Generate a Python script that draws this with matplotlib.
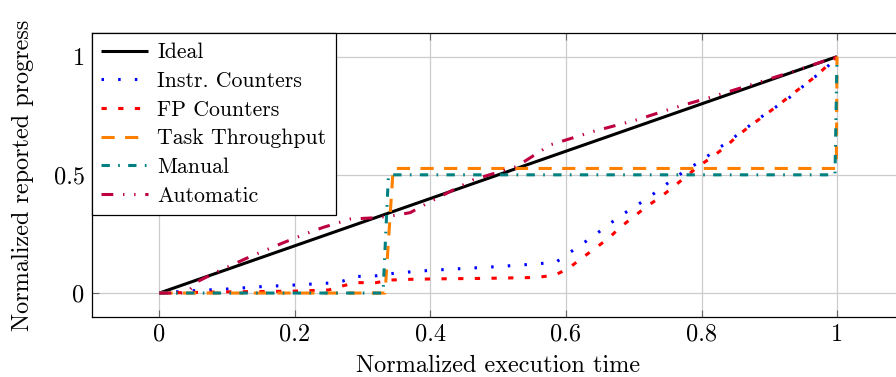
import matplotlib
matplotlib.use("Agg")
import matplotlib.pyplot as plt
from matplotlib.ticker import FormatStrFormatter

plt.rcParams['font.family'] = ['cmr10', 'DejaVu Serif']
plt.rcParams['mathtext.fontset'] = 'cm'
plt.rcParams['axes.formatter.use_mathtext'] = True
plt.rcParams['lines.scale_dashes'] = False

# Datos
ideal_x = [0, 1]
ideal_y = [0, 1]

instr_x = [0, 0.05, 0.1, 0.15, 0.2, 0.25, 0.27, 0.29, 0.32, 0.35, 0.4, 0.45, 0.5,
           0.55, 0.585, 0.6, 0.62, 0.64, 0.66, 0.68, 0.70, 0.72, 0.74, 0.76, 0.78,
           0.80, 0.82, 0.84, 0.86, 0.88, 0.90, 0.92, 0.94, 0.96, 0.98, 1.0]
instr_y = [0, 0.01, 0.017, 0.027, 0.034, 0.042, 0.05, 0.07, 0.073, 0.085, 0.096, 0.104, 0.112,
           0.122, 0.13, 0.16, 0.2, 0.24, 0.283, 0.326, 0.363, 0.40, 0.443, 0.486, 0.525,
           0.56, 0.603, 0.641, 0.685, 0.727, 0.77, 0.805, 0.85, 0.9, 0.94, 1.0]

fp_x = [0, 0.1, 0.2, 0.25, 0.27, 0.29, 0.32, 0.34, 0.37, 0.41, 0.48, 0.557, 0.584,
        0.604, 0.623, 0.643, 0.663, 0.68, 0.70, 0.719, 0.739, 0.759, 0.777, 0.795,
        0.817, 0.836, 0.852, 0.872, 0.891, 0.911, 0.93, 0.95, 0.969, 0.987, 1.0]
fp_y = [0, 0.005, 0.008, 0.013, 0.03, 0.044, 0.044, 0.055, 0.058, 0.06, 0.062, 0.066, 0.076,
        0.105, 0.147, 0.189, 0.232, 0.278, 0.323, 0.366, 0.405, 0.45, 0.493, 0.535,
        0.578, 0.62, 0.662, 0.708, 0.747, 0.79, 0.832, 0.877, 0.917, 0.966, 1.0]

task_x = [0, 0.333, 0.345, 0.999, 1.0]
task_y = [0, 0, 0.527, 0.527, 1.0]

manual_x = [0, 0.33, 0.338, 0.997, 1.0]
manual_y = [0, 0, 0.5, 0.5, 1.0]

auto_x = [0, 0.04, 0.056, 0.085, 0.134, 0.183, 0.218, 0.242, 0.282, 0.316, 0.34, 0.37,
          0.40, 0.463, 0.527, 0.577, 0.641, 0.705, 0.759, 0.818, 0.882, 0.936, 1.0]
auto_y = [0, 0, 0.048, 0.09, 0.154, 0.213, 0.253, 0.278, 0.313, 0.318, 0.325, 0.34,
          0.387, 0.479, 0.535, 0.627, 0.684, 0.733, 0.783, 0.832, 0.889, 0.938, 1.0]

fig = plt.figure(figsize=(8.96, 3.77), dpi=100)
ax = fig.add_axes([0.1023, 0.160, 0.9075, 0.7525])

lw = 2.2
ax.plot(ideal_x, ideal_y, color='black', lw=lw, solid_capstyle='butt', label='Ideal')
ax.plot(instr_x, instr_y, color='#0000ff', lw=lw, dashes=(1.8, 10.2),
        dash_capstyle='butt', label='Instr. Counters')
ax.plot(fp_x, fp_y, color='#ff0000', lw=lw, dashes=(3.8, 8.2),
        dash_capstyle='butt', label='FP Counters')
ax.plot(task_x, task_y, color='#ff8000', lw=lw, dashes=(9.5, 7.5),
        dash_capstyle='butt', label='Task Throughput')
ax.plot(manual_x, manual_y, color='#008080', lw=lw, dashes=(6, 6, 1.2, 6),
        dash_capstyle='butt', label='Manual')
ax.plot(auto_x, auto_y, color='#bf0040', lw=lw, dashes=(8.5, 7, 1, 7, 1, 7),
        dash_capstyle='butt', label='Automatic')

ax.set_xlim(-0.1, 1.1)
ax.set_ylim(-0.1, 1.1)
ax.set_xticks([0, 0.2, 0.4, 0.6, 0.8, 1])
ax.set_yticks([0, 0.5, 1])
ax.xaxis.set_major_formatter(FormatStrFormatter('%g'))
ax.yaxis.set_major_formatter(FormatStrFormatter('%g'))
ax.grid(True, color='#cccccc', lw=0.9)
ax.set_axisbelow(True)
ax.tick_params(direction='in', length=5, width=0.8, color='#666666',
               top=True, right=True, labelsize=17.5, pad=5)
for s in ax.spines.values():
    s.set_linewidth(0.9)

ax.set_xlabel('Normalized execution time', fontsize=17.5, labelpad=6.5)
ax.set_ylabel('Normalized reported progress', fontsize=17.5, labelpad=14)

leg = ax.legend(loc='upper left', bbox_to_anchor=(0, 1), borderaxespad=0,
                fontsize=15.7, frameon=True, fancybox=False, framealpha=1,
                edgecolor='black', handlelength=2.15, handletextpad=0.41,
                labelspacing=0.42, borderpad=0.45)
leg.get_frame().set_linewidth(0.9)

fig.savefig('out.png', dpi=100)
